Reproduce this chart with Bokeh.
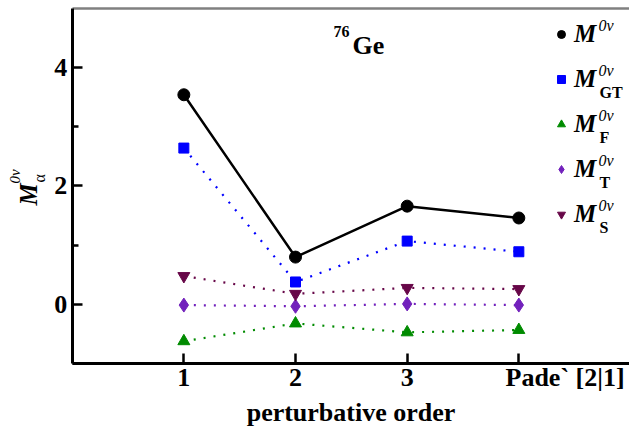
import numpy as np
from bokeh.plotting import figure
from bokeh.models import Label, Legend, LegendItem, FixedTicker, Range1d, LinearAxis
from bokeh.embed import file_html
from bokeh.resources import INLINE

# ---- data ----
orders = [1, 2, 3, 4]
tick_labels = ["1", "2", "3", "Pade` [2|1]"]
m_0v = [3.54, 0.80, 1.66, 1.46]
m_gt = [2.64, 0.38, 1.07, 0.89]
m_f = [-0.62, -0.32, -0.47, -0.43]
m_t = [-0.01, -0.03, 0.01, -0.01]
m_s = [0.48, 0.18, 0.28, 0.26]
sub_labels = ["", "GT", "F", "T", "S"]
y_ticks = [0, 2, 4]
y_minor = [-1, 1, 3]

FONT = "Liberation Serif"
W, H = 629, 429
# plot area in data units: x from 0 to XEND, y from -1 to 5
XEND, YBOT, YTOP = 4.99, -1, 5
# canvas-wide ranges (frame covers the whole canvas)
XMIN, XMAX = -0.642, 4.991
YMIN, YMAX = -2.110, 5.131
SHIFT = 0.37  # baseline correction (fraction of font size)


def X(px):
    return XMIN + px / W * (XMAX - XMIN)


def Y(py):
    return YMAX - py / H * (YMAX - YMIN)


def text_at(px, py, text, fs, style="bold", align="left", rotated=False):
    """Place text whose alphabetic baseline starts at pixel (px, py)."""
    if rotated:
        x, y, ang = X(px - SHIFT * fs), Y(py), np.pi / 2
    else:
        x, y, ang = X(px), Y(py - SHIFT * fs), 0
    p.add_layout(Label(x=x, y=y, text=text, angle=ang, text_font=FONT,
                       text_font_style=style, text_font_size=f"{fs}px",
                       text_baseline="alphabetic", text_align=align, text_color="black"))


p = figure(width=W, height=H, output_backend="svg", toolbar_location=None,
           x_range=Range1d(XMIN, XMAX), y_range=Range1d(YMIN, YMAX),
           min_border=0)
p.xgrid.visible = False
p.ygrid.visible = False
p.outline_line_color = None
p.background_fill_color = "white"

xa = p.xaxis[0]
ya = p.yaxis[0]
xa.fixed_location = YBOT
xa.bounds = (0, XEND)
ya.fixed_location = 0
ya.bounds = (YBOT, YTOP)

xa.ticker = FixedTicker(ticks=orders)
xa.major_label_overrides = {o: (t if i < 3 else "") for i, (o, t) in enumerate(zip(orders, tick_labels))}
ya.ticker = FixedTicker(ticks=y_ticks, minor_ticks=y_minor)
for ax in (xa, ya):
    ax.axis_line_width = 3
    ax.axis_line_color = "black"
    ax.major_tick_in = 10
    ax.major_tick_out = 0
    ax.major_tick_line_width = 2.5
    ax.major_tick_line_color = "black"
    ax.minor_tick_in = 6
    ax.minor_tick_out = 0
    ax.minor_tick_line_width = 2.5
    ax.minor_tick_line_color = "black"
    ax.major_label_text_font = FONT
    ax.major_label_text_font_style = "bold"
    ax.major_label_text_font_size = "26px"
    ax.major_label_text_color = "black"
xa.minor_tick_line_color = None
xa.major_label_standoff = 5
ya.major_label_standoff = 5

top = LinearAxis(fixed_location=YTOP, bounds=(0, XEND), axis_line_color="#808080",
                 axis_line_width=2.5, major_tick_line_color=None, minor_tick_line_color=None,
                 major_label_text_font_size="0px", ticker=FixedTicker(ticks=[]))
p.add_layout(top, "above")

# series
colors = ["black", "#0000ff", "#008b00", "#7221bc", "#670748"]
markers = ["circle", "square", "triangle", "diamond", "inverted_triangle"]
sizes = [12, 10, 12, 14, 12]
data = [m_0v, m_gt, m_f, m_t, m_s]
scatter_rs = []
for i, (vals, c, mk, s) in enumerate(zip(data, colors, markers, sizes)):
    if i == 0:
        p.line(orders, vals, line_color=c, line_width=2.5)
    else:
        p.line(orders, vals, line_color=c, line_width=2.2, line_dash="2 8")
    r = p.scatter(orders, vals, marker=mk, size=s, fill_color=c, line_color=c)
    scatter_rs.append(r)

legend = Legend(items=[LegendItem(label="M", renderers=[r]) for r in scatter_rs],
                location=(551, 200), orientation="vertical",
                glyph_width=20, glyph_height=30, label_height=30, label_width=20,
                spacing=15, padding=0, margin=0, label_standoff=3,
                border_line_color=None, background_fill_alpha=0,
                label_text_font=FONT, label_text_font_style="bold italic",
                label_text_font_size="25px", label_text_color="black")
p.add_layout(legend)

row0, pitch = 34, 45
for i, sub in enumerate(sub_labels):
    cy = row0 + pitch * i
    text_at(598, cy - 3, "0ν", 16, style="italic")
    if sub:
        text_at(599, cy + 19, sub, 16)

# title 76Ge
text_at(333, 37, "76", 16)
text_at(352, 55, "Ge", 26)

# Pade tick label
text_at(505, 387, tick_labels[3], 26)

# x axis title
text_at(350.5, 422, "perturbative order", 26, align="center")

# y axis title (rotated)
text_at(37, 205, "M", 25, style="bold italic", rotated=True)
text_at(20, 183, "0ν", 15, style="italic", rotated=True)
text_at(45, 182, "α", 16, style="normal", rotated=True)

open("out.html", "w").write(file_html(p, INLINE))
